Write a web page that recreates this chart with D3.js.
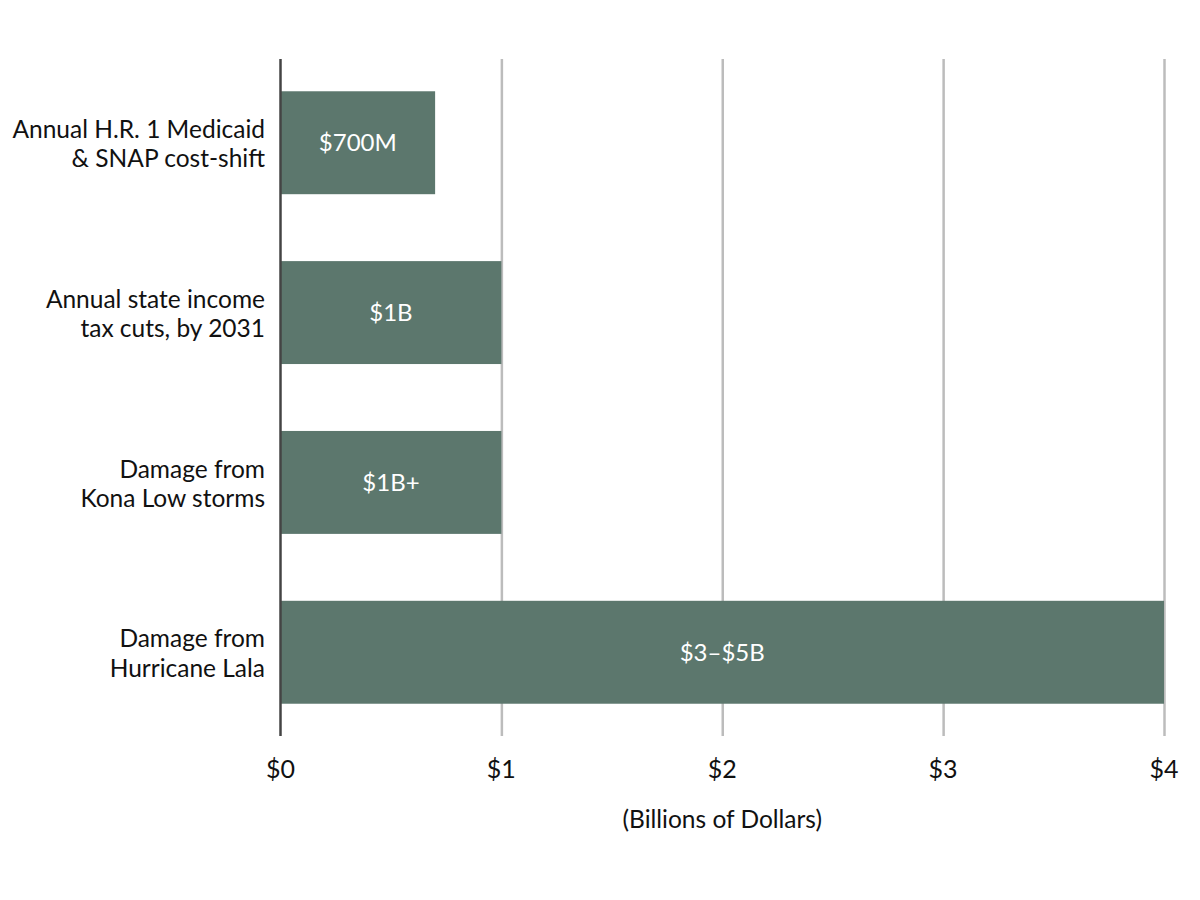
<!DOCTYPE html>
<html><head><meta charset="utf-8">
<script src="https://cdn.jsdelivr.net/npm/d3@7"></script>
<style>body{margin:0;background:#fff;} text{font-family:Lato,"Open Sans",sans-serif;}</style>
</head><body>
<svg id="c" width="1200" height="900"></svg>
<script>
const categories = [
  ["Annual H.R. 1 Medicaid", "& SNAP cost-shift"],
  ["Annual state income", "tax cuts, by 2031"],
  ["Damage from", "Kona Low storms"],
  ["Damage from", "Hurricane Lala"]
];
const values = [0.7, 1, 1, 4];
const valueLabels = ["$700M", "$1B", "$1B+", "$3\u2013$5B"];
const ticks = [0, 1, 2, 3, 4];
const tickLabels = ["$0", "$1", "$2", "$3", "$4"];
const axisTitle = "(Billions of Dollars)";

const svg = d3.select("#c");
const x = d3.scaleLinear().domain([0, 4]).range([280.5, 1164]);
const y = d3.scaleBand().domain(d3.range(categories.length)).range([59, 736])
  .paddingInner(0.394).paddingOuter(0.19);

// grid
svg.append("g").selectAll("line").data(ticks.slice(1)).join("line")
  .attr("x1", d => x(d) + 0.5).attr("x2", d => x(d) + 0.5)
  .attr("y1", 59).attr("y2", 736)
  .attr("stroke", "#bcbcbc").attr("stroke-width", 2.5);

// bars
svg.append("g").selectAll("rect").data(values).join("rect")
  .attr("x", x(0)).attr("y", (d, i) => y(i))
  .attr("width", d => x(d) - x(0)).attr("height", y.bandwidth())
  .attr("fill", "#5c776d");

// axis line
svg.append("line").attr("x1", x(0)).attr("x2", x(0)).attr("y1", 59).attr("y2", 736)
  .attr("stroke", "#444").attr("stroke-width", 2.5);

// value labels
svg.append("g").selectAll("text").data(values).join("text")
  .attr("x", d => (x(0) + x(d)) / 2).attr("y", (d, i) => y(i) + y.bandwidth() / 2)
  .attr("dy", "0.36em").attr("text-anchor", "middle")
  .attr("fill", "#fff").attr("font-size", 24)
  .text((d, i) => valueLabels[i]);

// category labels
const cl = svg.append("g").selectAll("text").data(categories).join("text")
  .attr("text-anchor", "end").attr("font-size", 24.5).attr("fill", "#111")
  .attr("x", 265).attr("y", (d, i) => y(i) + y.bandwidth() / 2);
cl.selectAll("tspan").data(d => d).join("tspan")
  .attr("x", 265).attr("dy", (d, j) => j === 0 ? "-0.2em" : "1.2em").text(d => d);

// tick labels
svg.append("g").selectAll("text").data(ticks).join("text")
  .attr("x", d => x(d)).attr("y", 778).attr("text-anchor", "middle")
  .attr("font-size", 25).attr("fill", "#111")
  .text((d, i) => tickLabels[i]);

svg.append("text").attr("x", (x(0) + x(4)) / 2).attr("y", 828)
  .attr("text-anchor", "middle").attr("font-size", 24.5).attr("fill", "#111")
  .text(axisTitle);
</script>
</body></html>
